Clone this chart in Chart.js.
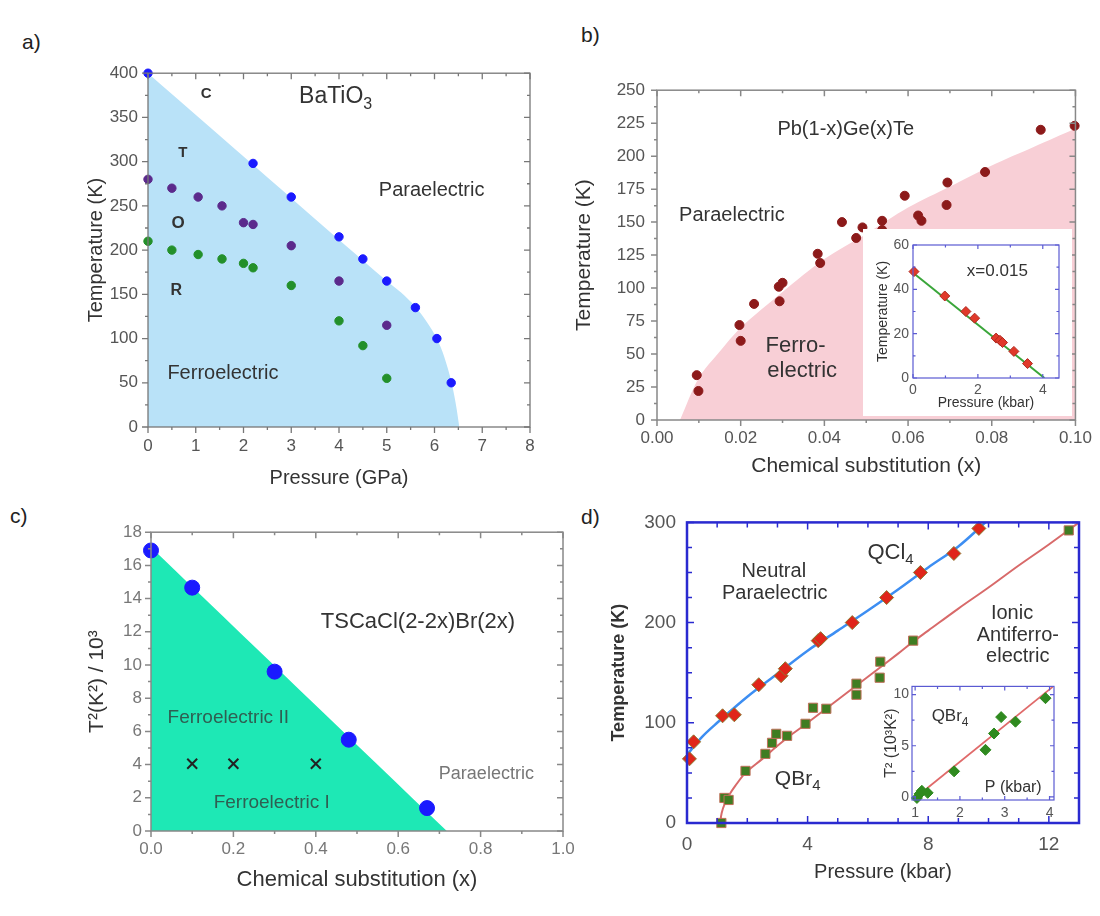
<!DOCTYPE html>
<html>
<head>
<meta charset="utf-8">
<title>Ferroelectric phase diagrams</title>
<script src="https://cdn.jsdelivr.net/npm/chart.js@4.4.1/dist/chart.umd.min.js"></script>
<style>
  body { margin: 0; background: #fff; font-family: "Liberation Sans", Arial, sans-serif; }
  #page { position: relative; width: 1100px; height: 916px; overflow: hidden; }
  canvas { position: absolute; }
  .tag { position: absolute; font-size: 21px; line-height: 21px; color: #222; }
  #cbi { background: #fff; }
</style>
</head>
<body>
<div id="page">
  <div class="tag" style="left:22px;top:31px">a)</div>
  <div class="tag" style="left:581px;top:24px">b)</div>
  <div class="tag" style="left:10px;top:505px">c)</div>
  <div class="tag" style="left:581px;top:506px">d)</div>
  <canvas id="ca"></canvas>
  <canvas id="cb"></canvas>
  <canvas id="cbi"></canvas>
  <canvas id="cc"></canvas>
  <canvas id="cd"></canvas>
  <canvas id="cdi"></canvas>
</div>
<script>
// a) BaTiO3 : pressure (GPa) vs temperature (K)
const aCubicP = [0, 2.2, 3, 4, 4.5, 5, 5.6, 6.05, 6.35];
const aCubicT = [400, 298, 260, 215, 190, 165, 135, 100, 50];
const aTetraP = [0, 0.5, 1.05, 1.55, 2, 2.2, 3, 4, 5];
const aTetraT = [280, 270, 260, 250, 231, 229, 205, 165, 115];
const aOrthoP = [0, 0.5, 1.05, 1.55, 2, 2.2, 3, 4, 4.5, 5];
const aOrthoT = [210, 200, 195, 190, 185, 180, 160, 120, 92, 55];
const aEdgeP = [0, 5, 5.3, 5.6, 5.85, 6.05, 6.2, 6.35, 6.45, 6.52];
const aEdgeT = [400, 165, 152, 136, 118, 100, 80, 52, 25, 0];
const aXTicks = [0, 1, 2, 3, 4, 5, 6, 7, 8];
const aYTicks = [0, 50, 100, 150, 200, 250, 300, 350, 400];

// b) Pb(1-x)Ge(x)Te : substitution vs temperature (K)
const bX = [0.0095, 0.0099, 0.0197, 0.020, 0.0232, 0.0291, 0.030, 0.0293, 0.0384, 0.039, 0.0442, 0.0476,
            0.0491, 0.0538, 0.0538, 0.0592, 0.0624, 0.0632, 0.0694, 0.0692, 0.0784, 0.0917, 0.0998];
const bT = [34, 22, 72, 60, 88, 101, 104, 90, 126, 119, 150, 138, 146, 151, 144, 170, 155, 151, 180, 163, 188, 220, 223];
const bEdgeX = [0.0055, 0.01, 0.015, 0.02, 0.03, 0.04, 0.05, 0.06, 0.07, 0.08, 0.09, 0.1];
const bEdgeT = [0, 32, 52, 70, 97, 122, 141, 161, 177, 193, 207, 221];
const bXTicks = [0, 0.02, 0.04, 0.06, 0.08, 0.1];
const bYTicks = [0, 25, 50, 75, 100, 125, 150, 175, 200, 225, 250];

// b) inset, x = 0.015 : pressure (kbar) vs temperature (K)
const ibP = [0.03, 0.98, 1.63, 1.9, 2.56, 2.68, 2.76, 3.11, 3.53];
const ibT = [48, 37, 30, 27, 18, 17, 16, 12, 6.5];
const ibFitP = [0, 4.05];
const ibFitT = [47.5, 0];
const ibXTicks = [0, 2, 4];
const ibYTicks = [0, 20, 40, 60];

// c) TSCaCl(2-2x)Br(2x) : substitution vs T^2 / 10^3
const cX = [0, 0.1, 0.3, 0.48, 0.67];
const cT2 = [16.9, 14.66, 9.6, 5.5, 1.38];
const cCrossX = [0.1, 0.2, 0.4];
const cCrossT2 = [4.05, 4.05, 4.05];
const cEdgeX = [0, 0.718];
const cEdgeT2 = [17.1, 0];
const cXTicks = [0, 0.2, 0.4, 0.6, 0.8, 1.0];
const cYTicks = [0, 2, 4, 6, 8, 10, 12, 14, 16, 18];

// d) QCl4 / QBr4 : pressure (kbar) vs temperature (K)
const dClP = [0.08, 0.22, 1.18, 1.57, 2.38, 3.12, 3.26, 4.35, 4.43, 5.48, 6.62, 7.74, 8.85, 9.68];
const dClT = [64, 81, 107, 108, 138, 147, 154, 182, 184, 200, 225, 250, 269, 294];
const dBrP = [1.14, 1.24, 1.38, 1.94, 2.6, 2.82, 2.96, 3.32, 3.93, 4.18, 4.62, 5.62, 5.62, 6.39, 6.41, 7.5, 12.66];
const dBrT = [0, 25, 23, 52, 69, 80, 89, 87, 99, 115, 114, 128, 139, 145, 161, 182, 292];
const dClFitP = [0, 0.5, 1, 2, 3, 4, 5, 6, 7, 8, 9, 9.9];
const dClFitT = [68, 86, 100, 126, 149, 172, 192, 212, 233, 255, 276, 300];
const dBrFitP = [1.1, 1.15, 1.25, 1.4, 1.6, 1.94, 2.5, 3, 3.5, 4, 5, 6, 7, 7.5, 8, 9, 10, 11, 12, 13];
const dBrFitT = [0, 10, 19, 28, 37, 50, 64, 77, 89, 100, 123, 146, 169, 181, 192, 214, 235, 257, 278, 300];
const dXTicks = [0, 4, 8, 12];
const dYTicks = [0, 100, 200, 300];

// d) inset, QBr4 : P (kbar) vs T^2 (10^3 K^2)
const idP = [1.04, 1.1, 1.15, 1.28, 1.87, 2.57, 2.76, 2.92, 3.24, 3.91];
const idT2 = [-0.1, 0.3, 0.6, 0.4, 2.5, 4.6, 6.2, 7.8, 7.35, 9.65];
const idFitP = [0.97, 4.07];
const idFitT2 = [-0.2, 10.75];
const idXTicks = [1, 2, 3, 4];
const idYTicks = [0, 5, 10];

const FONT = '"Liberation Sans", Arial, sans-serif';
Chart.defaults.font.family = FONT;
Chart.defaults.animation = false;
Chart.defaults.events = [];
Chart.defaults.plugins.legend.display = false;
Chart.defaults.plugins.tooltip.enabled = false;

// box around the plot with major/minor tick marks on all four sides
const frame = {
  id: 'frame',
  afterDatasetsDraw(chart, args, o) {
    const { ctx, chartArea: a, scales } = chart;
    const marks = (s, step) => {
      const out = [];
      const start = Math.ceil(s.min / step - 1e-9) * step;
      for (let i = 0, v = start; v <= s.max + 1e-9; i++, v = start + i * step) {
        const major = s.ticks.some(t => Math.abs(t.value - v) < step * 1e-3);
        out.push([s.getPixelForValue(v), major ? o.major : o.minor]);
      }
      return out;
    };
    ctx.save();
    ctx.strokeStyle = o.color;
    ctx.lineWidth = o.width;
    ctx.strokeRect(a.left, a.top, a.right - a.left, a.bottom - a.top);
    ctx.lineWidth = Math.min(o.width, 1.5);
    ctx.beginPath();
    for (const [px, len] of marks(scales.x, o.xStep)) {
      ctx.moveTo(px, a.bottom); ctx.lineTo(px, a.bottom + (o.out ? len : -len));
      ctx.moveTo(px, a.top); ctx.lineTo(px, a.top + len);
    }
    for (const [py, len] of marks(scales.y, o.yStep)) {
      ctx.moveTo(a.left, py); ctx.lineTo(a.left + (o.out ? -len : len), py);
      ctx.moveTo(a.right, py); ctx.lineTo(a.right - len, py);
    }
    ctx.stroke();
    ctx.restore();
  }
};

// text labels placed at data coordinates, with optional subscript
const notes = {
  id: 'notes',
  afterDatasetsDraw(chart, args, o) {
    if (!o.items) return;
    const { ctx, scales: { x, y } } = chart;
    ctx.save();
    ctx.textBaseline = 'middle';
    ctx.textAlign = 'left';
    for (const n of o.items) {
      const f = (n.bold ? 'bold ' : '') + n.size + 'px ' + FONT;
      const fs = Math.round(n.size * 0.7) + 'px ' + FONT;
      ctx.font = f;
      const w1 = ctx.measureText(n.t).width;
      ctx.font = fs;
      const w2 = n.sub ? ctx.measureText(n.sub).width : 0;
      const px = x.getPixelForValue(n.x) - (w1 + w2) / 2;
      const py = y.getPixelForValue(n.y);
      ctx.fillStyle = n.color || '#333';
      ctx.font = f;
      ctx.fillText(n.t, px, py);
      if (n.sub) {
        ctx.font = fs;
        ctx.fillText(n.sub, px + w1, py + n.size * 0.32);
      }
    }
    ctx.restore();
  }
};
Chart.register(frame, notes);

const pts = (xs, ys) => xs.map((x, i) => ({ x, y: ys[i] }));

function dots(xs, ys, color, r, style, edge, edgeWidth) {
  return {
    data: pts(xs, ys), showLine: false, clip: false,
    pointRadius: r, pointStyle: style || 'circle',
    pointBackgroundColor: color, pointBorderColor: edge || color, pointBorderWidth: edgeWidth || 1,
    backgroundColor: color, borderColor: edge || color
  };
}

function area(xs, ys, color) {
  return {
    data: pts(xs, ys), fill: 'origin', backgroundColor: color,
    borderColor: 'transparent', borderWidth: 0, pointRadius: 0, tension: 0.3
  };
}

function curve(xs, ys, color, width, tension) {
  return {
    data: pts(xs, ys), fill: false, borderColor: color, borderWidth: width,
    pointRadius: 0, tension: tension
  };
}

function axis(min, max, ticks, t) {
  return {
    type: 'linear', min, max,
    grid: { display: false, drawTicks: false },
    border: { display: false },
    afterBuildTicks: s => { s.ticks = ticks.map(v => ({ value: v })); },
    ticks: {
      autoSkip: false, maxRotation: 0, padding: t.pad, color: t.color || '#555',
      font: { size: t.size }, callback: t.fmt || (v => v)
    },
    title: {
      display: !!t.title, text: t.title || '', color: t.titleColor || '#333',
      font: { size: t.titleSize || 20, weight: t.bold ? 'bold' : 'normal' },
      padding: { top: t.titlePad || 4, bottom: 4 }
    }
  };
}

// area = [left, top, right, bottom] of the plot on the page
function build(id, area, box, datasets, x, y, plugins) {
  const c = document.getElementById(id);
  const [L, T, R, B] = area;
  const left = L - box.yW - box.pl, top = T - box.pt;
  const w = R - left + box.pr, h = B + box.xH + box.pb - top;
  c.width = w; c.height = h;
  c.style.left = left + 'px'; c.style.top = top + 'px';
  c.style.width = w + 'px'; c.style.height = h + 'px';
  x.afterFit = s => { s.height = box.xH; };
  y.afterFit = s => { s.width = box.yW; };
  return new Chart(c, {
    type: 'line',
    data: { datasets },
    options: {
      responsive: false,
      layout: { padding: { left: box.pl, top: box.pt, right: box.pr, bottom: box.pb } },
      scales: { x, y },
      plugins
    }
  });
}

// a)
build('ca', [148, 67, 530, 427], { yW: 68, xH: 67, pl: 0, pt: 14, pr: 20, pb: 0 },
  [
    dots(aCubicP, aCubicT, '#1a1aff', 4.2),
    dots(aTetraP, aTetraT, '#5b2a8c', 4.2),
    dots(aOrthoP, aOrthoT, '#23902a', 4.2),
    area(aEdgeP, aEdgeT, '#b9e2f8')
  ],
  axis(0, 8, aXTicks, { size: 17, pad: 9, title: 'Pressure (GPa)', titleSize: 20 }),
  axis(0, 400, aYTicks, { size: 17, pad: 10, title: 'Temperature (K)', titleSize: 20 }),
  {
    frame: { color: '#777', width: 1.3, xStep: 0.5, yStep: 25, major: 6, minor: 3, out: true },
    notes: { items: [
      { x: 1.22, y: 377, t: 'C', size: 15, bold: true },
      { x: 3.93, y: 373, t: 'BaTiO', sub: '3', size: 23 },
      { x: 0.73, y: 310, t: 'T', size: 15, bold: true },
      { x: 0.63, y: 230, t: 'O', size: 17, bold: true },
      { x: 0.59, y: 154, t: 'R', size: 16, bold: true },
      { x: 5.94, y: 267, t: 'Paraelectric', size: 20 },
      { x: 1.57, y: 60, t: 'Ferroelectric', size: 20 }
    ] }
  });

// b)
build('cb', [657, 82, 1078, 420], { yW: 89, xH: 63, pl: 0, pt: 14, pr: 22, pb: 0 },
  [
    dots(bX, bT, '#8c1a1a', 4.5),
    area(bEdgeX, bEdgeT, '#f8cfd6')
  ],
  axis(0, 0.1, bXTicks, { size: 17, pad: 8, fmt: v => v.toFixed(2), title: 'Chemical substitution (x)', titleSize: 21 }),
  axis(0, 250, bYTicks, { size: 17, pad: 12, title: 'Temperature (K)', titleSize: 21 }),
  {
    frame: { color: '#888', width: 1.5, xStep: 0.01, yStep: 12.5, major: 6, minor: 3, out: true },
    notes: { items: [
      { x: 0.0451, y: 220.5, t: 'Pb(1-x)Ge(x)Te', size: 20 },
      { x: 0.0179, y: 155, t: 'Paraelectric', size: 20 },
      { x: 0.0331, y: 56, t: 'Ferro-', size: 22 },
      { x: 0.0347, y: 37, t: 'electric', size: 22 }
    ] }
  });

// b) inset
build('cbi', [913, 245, 1059, 378], { yW: 50, xH: 38, pl: 0, pt: 16, pr: 13, pb: 0 },
  [
    dots(ibP, ibT, '#e0392a', 5, 'rectRot', '#b02a20'),
    curve(ibFitP, ibFitT, '#3aa63a', 2, 0)
  ],
  axis(0, 4.5, ibXTicks, { size: 14, pad: 4, title: 'Pressure (kbar)', titleSize: 14 }),
  axis(0, 60, ibYTicks, { size: 14, pad: 4, title: 'Temperature (K)', titleSize: 14, titlePad: 12 }),
  {
    frame: { color: '#5a5ad2', width: 1.2, xStep: 1, yStep: 10, major: 4, minor: 2.5, out: false },
    notes: { items: [{ x: 2.6, y: 48, t: 'x=0.015', size: 17 }] }
  });

// c)
build('cc', [151, 527, 563, 831], { yW: 70, xH: 66, pl: 0, pt: 14, pr: 22, pb: 0 },
  [
    dots(cX, cT2, '#1a1aff', 7.5),
    dots(cCrossX, cCrossT2, '#222', 7, 'crossRot', '#222', 2),
    area(cEdgeX, cEdgeT2, '#1ee8b5')
  ],
  axis(0, 1, cXTicks, { size: 17, pad: 8, color: '#777', fmt: v => v.toFixed(1), title: 'Chemical substitution (x)', titleSize: 22 }),
  axis(0, 18, cYTicks, { size: 17, pad: 9, color: '#777', title: 'T²(K²) / 10³', titleSize: 21 }),
  {
    frame: { color: '#888', width: 1.5, xStep: 0.1, yStep: 1, major: 6, minor: 3, out: true },
    notes: { items: [
      { x: 0.648, y: 12.6, t: 'TSCaCl(2-2x)Br(2x)', size: 22 },
      { x: 0.1875, y: 6.8, t: 'Ferroelectric II', size: 19, color: '#2f5f52' },
      { x: 0.293, y: 1.7, t: 'Ferroelectric I', size: 19, color: '#2f5f52' },
      { x: 0.814, y: 3.45, t: 'Paraelectric', size: 18, color: '#777' }
    ] }
  });

// d)
build('cd', [687, 514, 1079, 823], { yW: 83, xH: 65, pl: 0, pt: 14, pr: 14, pb: 0 },
  [
    dots(dClP, dClT, '#e0261a', 7, 'rectRot', '#8d7a33'),
    dots(dBrP, dBrT, '#3f7d22', 6.5, 'rect', '#c0705a'),
    curve(dClFitP, dClFitT, '#3d8ef2', 2.5, 0.35),
    curve(dBrFitP, dBrFitT, '#d86a6a', 2, 0.35)
  ],
  axis(0, 13, dXTicks, { size: 19, pad: 10, title: 'Pressure (kbar)', titleSize: 20 }),
  axis(0, 300, dYTicks, { size: 19, pad: 11, title: 'Temperature (K)', titleSize: 18, bold: true }),
  {
    frame: { color: '#2a2ad0', width: 2.5, xStep: 1, yStep: 25, major: 7, minor: 5, out: false },
    notes: { items: [
      { x: 6.75, y: 270, t: 'QCl', sub: '4', size: 22 },
      { x: 2.88, y: 251, t: 'Neutral', size: 20 },
      { x: 2.91, y: 229.5, t: 'Paraelectric', size: 20 },
      { x: 10.78, y: 209, t: 'Ionic', size: 20 },
      { x: 10.97, y: 187, t: 'Antiferro-', size: 20 },
      { x: 10.97, y: 166, t: 'electric', size: 20 },
      { x: 3.67, y: 43.5, t: 'QBr', sub: '4', size: 21 }
    ] }
  });

// d) inset
build('cdi', [912, 683, 1054, 800], { yW: 40, xH: 25, pl: 0, pt: 8, pr: 10, pb: 0 },
  [
    dots(idP, idT2, '#2f8a1f', 5.5, 'rectRot', '#2f8a1f'),
    curve(idFitP, idFitT2, '#e06a6a', 1.8, 0)
  ],
  axis(0.93, 4.1, idXTicks, { size: 14, pad: 5 }),
  axis(-0.3, 10.8, idYTicks, { size: 14, pad: 3, title: 'T² (10³K²)', titleSize: 16, titlePad: 10 }),
  {
    frame: { color: '#5a5ad2', width: 1.2, xStep: 0.5, yStep: 2.5, major: 4, minor: 2.5, out: false },
    notes: { items: [
      { x: 1.78, y: 7.83, t: 'QBr', sub: '4', size: 17 },
      { x: 3.19, y: 0.96, t: 'P (kbar)', size: 16 }
    ] }
  });
</script>
</body>
</html>
